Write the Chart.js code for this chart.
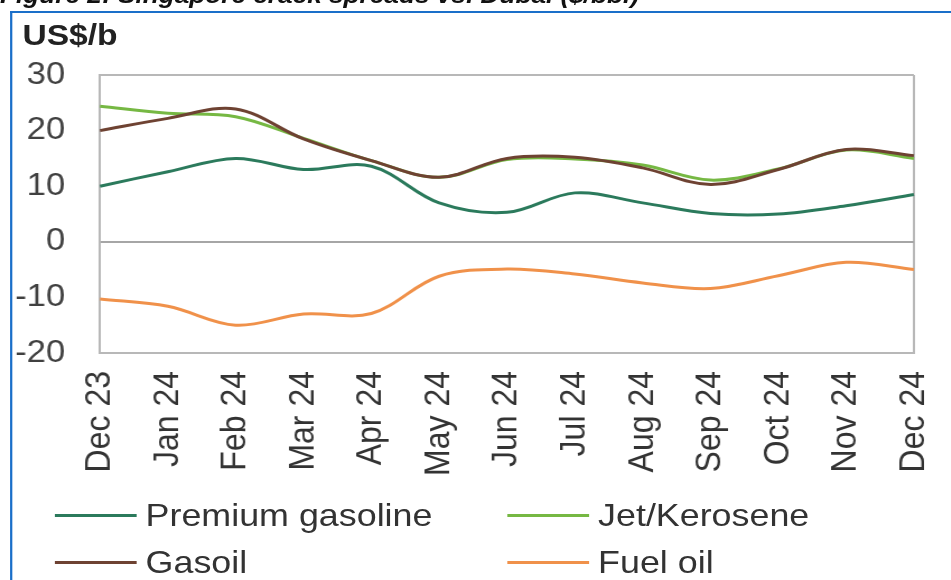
<!DOCTYPE html>
<html>
<head>
<meta charset="utf-8">
<script src="https://cdn.jsdelivr.net/npm/chart.js@4"></script>
<style>
  html, body { margin: 0; padding: 0; background: #fff; overflow: hidden; }
  body { width: 951px; height: 580px; }
  /* the reference picture is a little wider than tall, so the whole page is stretched */
  #page {
    position: relative; width: 849px; height: 580px; overflow: hidden;
    transform: scaleX(1.12); transform-origin: 0 0;
    font-family: "Liberation Sans", Arial, sans-serif;
  }
  #title {
    position: absolute; left: 0; top: -16.5px; white-space: nowrap;
    font-size: 23.4px; line-height: 23.4px; font-weight: bold; font-style: italic; color: #111;
  }
  #frame {
    position: absolute; left: 9px; top: 11px; width: 2000px; height: 2000px;
    border-left: 2px solid #1a6fc9; border-top: 2px solid #1a6fc9;
  }
  #unit {
    position: absolute; left: 20px; top: 19.6px;
    font-size: 30px; line-height: 30px; font-weight: bold; color: #222;
  }
  #wrap { position: absolute; left: 0; top: 0; width: 849px; height: 485px; }
  .item {
    position: absolute; display: flex; align-items: center; white-space: nowrap;
    font-size: 32px; line-height: 32px; color: #333;
  }
  .item span.line { display: inline-block; width: 73px; height: 3px; margin-right: 8px; }
</style>
</head>
<body>
<div id="page">
  <div id="title">Figure 2: Singapore crack spreads vs. Dubai ($/bbl)</div>
  <div id="frame"></div>
  <div id="wrap"><canvas id="crack-line"></canvas></div>
  <div id="unit">US$/b</div>
  <div id="legend"></div>
</div>
<script>
const labels = ['Dec 23', 'Jan 24', 'Feb 24', 'Mar 24', 'Apr 24', 'May 24', 'Jun 24',
  'Jul 24', 'Aug 24', 'Sep 24', 'Oct 24', 'Nov 24', 'Dec 24'];
const premiumGasoline = [10.0, 12.6, 15.0, 13.0, 13.6, 7.0, 5.3, 8.8, 7.0, 5.1, 5.0, 6.5, 8.5];
const jetKerosene = [24.4, 23.1, 22.5, 18.6, 14.6, 11.6, 14.8, 14.9, 13.8, 11.1, 13.1, 16.5, 15.0];
const gasoil = [20.0, 22.2, 23.9, 18.5, 14.6, 11.6, 15.0, 15.2, 13.3, 10.3, 13.0, 16.6, 15.5];
const fuelOil = [-10.3, -11.6, -15.0, -13.0, -12.9, -6.2, -4.9, -5.8, -7.4, -8.4, -6.1, -3.7, -5.0];
const yTicks = [-20, -10, 0, 10, 20, 30];

const FONT = '"Liberation Sans", Arial, sans-serif';
const frameColor = '#b8b8b8';
const zeroColor = '#a6a6a6';

const series = [
  { label: 'Premium gasoline', data: premiumGasoline, color: '#2b7a5c', order: 2 },
  { label: 'Jet/Kerosene', data: jetKerosene, color: '#76b843', order: 1 },
  { label: 'Gasoil', data: gasoil, color: '#6e4232', order: 0 },
  { label: 'Fuel oil', data: fuelOil, color: '#f0914a', order: 3 },
];

new Chart(document.getElementById('crack-line'), {
  type: 'line',
  data: {
    labels: labels,
    datasets: series.map((s) => ({
      label: s.label,
      data: s.data,
      borderColor: s.color,
      backgroundColor: s.color,
      borderWidth: 3,
      pointRadius: 0,
      tension: 0.35,
      order: s.order,
    })),
  },
  options: {
    responsive: true,
    maintainAspectRatio: false,
    animation: false,
    devicePixelRatio: 1,
    layout: { padding: { top: 75, right: 33, bottom: 0, left: 0 } },
    plugins: {
      legend: { display: false },
      tooltip: { enabled: false },
    },
    scales: {
      x: {
        offset: false,
        afterFit: (scale) => {
          scale.height = 132;
          scale.paddingLeft = 0;
          scale.paddingRight = 0;
        },
        grid: {
          drawTicks: false,
          lineWidth: 2,
          color: (ctx) => (ctx.index === labels.length - 1 ? frameColor : 'transparent'),
        },
        border: { color: frameColor, width: 2 },
        ticks: {
          minRotation: 90,
          maxRotation: 90,
          autoSkip: false,
          padding: 18,
          color: '#333',
          font: { family: FONT, size: 32 },
        },
      },
      y: {
        min: yTicks[0],
        max: yTicks[yTicks.length - 1],
        afterFit: (scale) => { scale.width = 89.3; },
        afterBuildTicks: (scale) => { scale.ticks = yTicks.map((v) => ({ value: v })); },
        grid: {
          drawTicks: false,
          lineWidth: 2,
          color: (ctx) => {
            if (ctx.tick.value === 0) return zeroColor;
            if (ctx.tick.value === 30) return frameColor;
            return 'transparent';
          },
        },
        border: { color: frameColor, width: 2 },
        ticks: {
          padding: 31,
          color: '#404040',
          font: { family: FONT, size: 31 },
        },
      },
    },
  },
});

// legend in two columns, like the original
const legendPos = [[49, 499], [453, 499], [49, 546], [453, 546]];
const legend = document.getElementById('legend');
series.forEach((s, i) => {
  const item = document.createElement('div');
  item.className = 'item';
  item.style.left = legendPos[i][0] + 'px';
  item.style.top = legendPos[i][1] + 'px';
  const line = document.createElement('span');
  line.className = 'line';
  line.style.background = s.color;
  item.appendChild(line);
  item.appendChild(document.createTextNode(s.label));
  legend.appendChild(item);
});
</script>
</body>
</html>
